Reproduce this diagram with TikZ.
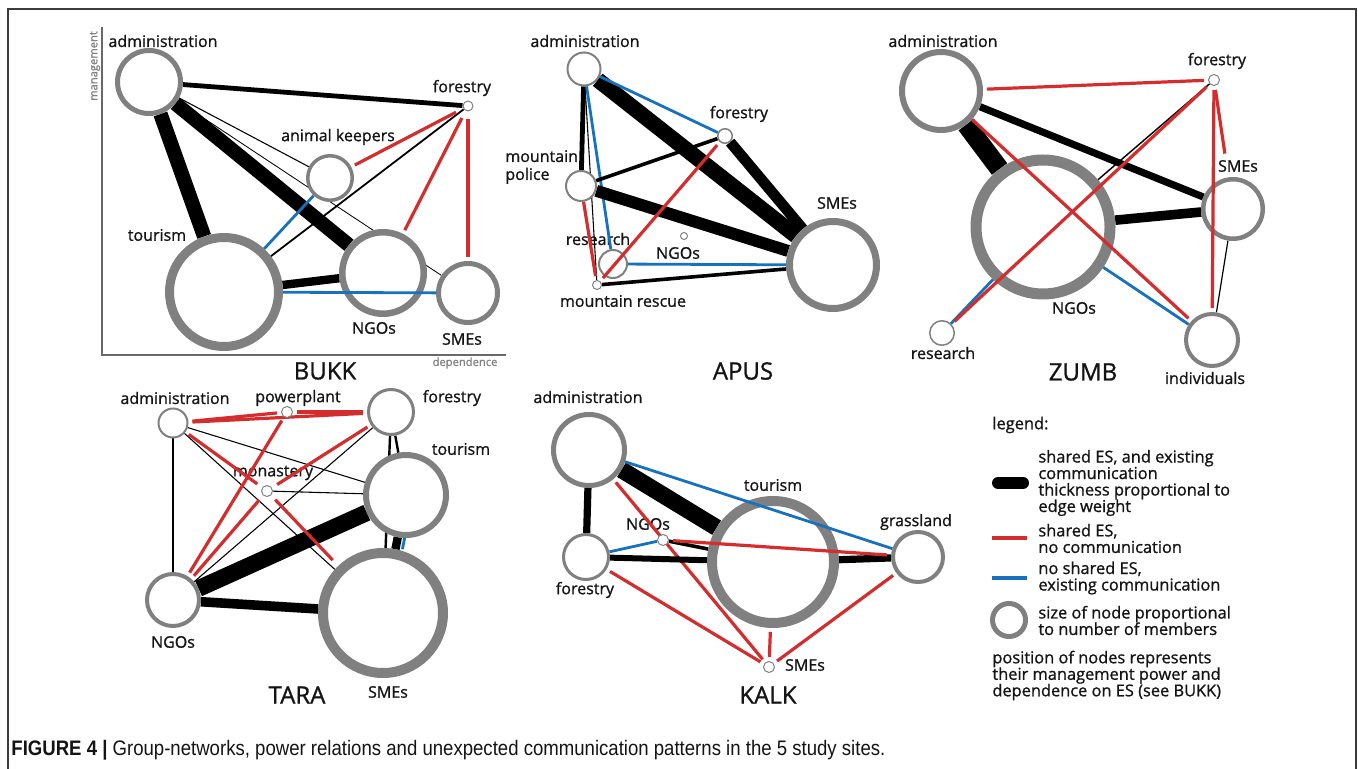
\documentclass[tikz,border=0pt]{standalone}
\usepackage{fontspec}
\usepackage{graphicx}
\setmainfont{Open Sans}[FakeBold=1.0]
\newfontfamily\capfont{Liberation Sans}
\usetikzlibrary{backgrounds}
\definecolor{ringc}{RGB}{128,128,128}
\definecolor{redc}{RGB}{212,45,45}
\definecolor{bluec}{RGB}{22,114,190}
\definecolor{axisc}{RGB}{105,105,105}
\definecolor{framec}{RGB}{60,60,60}
\definecolor{txtc}{RGB}{20,20,20}
\tikzset{
  ring/.style 2 args={circle, draw=ringc, fill=white, inner sep=0pt, line width={#2*0.5pt}, minimum size={(2*#1-#2)*0.5pt}},
  lbl/.style={font=\fontsize{8}{9}\selectfont, text=txtc, inner sep=0pt},
  ttl/.style={font=\fontsize{12}{14}\selectfont, text=txtc, inner sep=0pt},
  leg/.style={font=\fontsize{8.2}{8.25}\selectfont, text=txtc, inner sep=0pt, align=left, anchor=west},
  axlbl/.style={font=\fontsize{5.6}{6}\selectfont, text=gray, inner sep=0pt},
  bk/.style={draw=black, line width={#1*0.6pt}},
  bk/.default=1,
  rd/.style={draw=redc, line width=1.6pt, shorten <=2pt, shorten >=2pt},
  bu/.style={draw=bluec, line width=1.4pt},
}
\begin{document}
\begin{tikzpicture}[x=0.5pt,y=-0.5pt]
\useasboundingbox (0,0) rectangle (1358,769);
\draw[framec, line width=0.75pt] (8,790) -- (8,9) -- (1356,9) -- (1356,790);

% ================= BUKK =================
\draw[axisc, line width=1pt] (102,27) -- (102,355) -- (506,355);
\node[axlbl, rotate=90] (Bman) at (95,66) {management};
\node[axlbl] (Bdep) at (465,363) {dependence};
\node[ring={34}{5}] (Badm) at (149,82) {};
\node[ring={5.5}{1}] (Bfor) at (468,106) {};
\node[ring={24}{3.5}] (Bak) at (330,178) {};
\node[ring={59}{9}] (Btou) at (224,292) {};
\node[ring={44}{6.5}] (Bngo) at (383,273) {};
\node[ring={32}{5}] (Bsme) at (468,293) {};
\node[ttl] (Btitle) at (325,371) {BUKK};

% ================= APUS =================
\node[ring={17.5}{2}] (Aadm) at (584,69) {};
\node[ring={8}{1.5}] (Afor) at (725,136) {};
\node[ring={16}{2}] (Apol) at (581,186) {};
\node[ring={15}{2}] (Ares) at (613,264) {};
\node[ring={5}{1}] (Arsc) at (597,285) {};
\node[ring={4}{1}] (Ango) at (684,236) {};
\node[ring={47}{7}] (Asme) at (833,265) {};
\node[ttl] (Atitle) at (743,371) {APUS};

% ================= ZUMB =================
\node[ring={42}{6}] (Zadm) at (941,91) {};
\node[ring={6}{1}] (Zfor) at (1214,80) {};
\node[ring={32}{4.5}] (Zsme) at (1233,209) {};
\node[ring={72.5}{11}] (Zngo) at (1043,227) {};
\node[ring={13}{1.5}] (Zres) at (942,333) {};
\node[ring={28}{4}] (Zind) at (1212,340) {};
\node[ttl] (Ztitle) at (1083,372) {ZUMB};

% ================= TARA =================
\node[ring={15.5}{2}] (Tadm) at (173,423) {};
\node[ring={6}{1}] (Tpow) at (287,412) {};
\node[ring={24}{3}] (Tfor) at (391,412) {};
\node[ring={43}{6}] (Ttou) at (406,495) {};
\node[ring={6}{1}] (Tmon) at (267,491) {};
\node[ring={28}{4}] (Tngo) at (173,600) {};
\node[ring={65}{10}] (Tsme) at (383,613) {};
\node[ttl] (Ttitle) at (297,695) {TARA};

% ================= KALK =================
\node[ring={38}{5}] (Kadm) at (589,450) {};
\node[ring={24}{3}] (Kfor) at (586,557) {};
\node[ring={6}{1}] (Kngo) at (663,540) {};
\node[ring={66}{10}] (Ktou) at (773,562) {};
\node[ring={27}{4}] (Kgra) at (918,557) {};
\node[ring={6}{1}] (Ksme) at (769,667) {};
\node[ttl] (Ktitle) at (768,695) {KALK};

% ================= background: labels and edges =================
\begin{scope}[on background layer]
  % labels
  \node[lbl] (LBadm) at (163,41) {administration};
  \node[lbl] (LBfor) at (462,88) {forestry};
  \node[lbl] (LBak) at (338,137) {animal keepers};
  \node[lbl] (LBtou) at (157,235) {tourism};
  \node[lbl] (LBngo) at (374,328) {NGOs};
  \node[lbl] (LBsme) at (462,339) {SMEs};

  \node[lbl] (LAadm) at (585,41) {administration};
  \node[lbl] (LAfor) at (739,114) {forestry};
  \node[lbl, anchor=west, align=left] (LApol) at (505,167) {mountain\\police};
  \node[lbl] (LAres) at (598,239) {research};
  \node[lbl] (LArsc) at (623,301) {mountain rescue};
  \node[lbl] (LAngo) at (678,253) {NGOs};
  \node[lbl] (LAsme) at (837,203) {SMEs};

  \node[lbl] (LZadm) at (943,41) {administration};
  \node[lbl] (LZfor) at (1217,61) {forestry};
  \node[lbl] (LZsme) at (1238,166) {SMEs};
  \node[lbl] (LZngo) at (1074,308) {NGOs};
  \node[lbl] (LZres) at (943,353) {research};
  \node[lbl] (LZind) at (1205,378) {individuals};

  \node[lbl] (LTadm) at (175,398) {administration};
  \node[lbl] (LTpow) at (298,398) {powerplant};
  \node[lbl] (LTfor) at (452,398) {forestry};
  \node[lbl] (LTtou) at (461,449) {tourism};
  \node[lbl] (LTmon) at (273,473) {monastery};
  \node[lbl] (LTngo) at (173,642) {NGOs};
  \node[lbl] (LTsme) at (388,692) {SMEs};

  \node[lbl] (LKadm) at (588,397) {administration};
  \node[lbl] (LKfor) at (585,590) {forestry};
  \node[lbl] (LKngo) at (648,524) {NGOs};
  \node[lbl] (LKtou) at (773,485) {tourism};
  \node[lbl] (LKgra) at (916,522) {grassland};
  \node[lbl] (LKsme) at (805,665) {SMEs};

  % BUKK edges
  \draw[bk=4] (Badm) -- (Bfor);
  \draw[bk=12] (Badm) -- (Btou);
  \draw[bk=12] (Badm) -- (Bngo);
  \draw[bk=0.9] (Badm) -- (Bak);
  \draw[bk=0.7] (Badm) -- (Bsme);
  \draw[bk=1.5] (Btou) -- (Bfor);
  \draw[bk=7] (Btou) -- (Bngo);
  \draw[bu] (Btou) -- (Bak);
  \draw[rd, shorten <=4pt] (Bfor) -- (Bak);
  \draw[rd, shorten <=4pt] (Bfor) -- (Bngo);
  \draw[rd, shorten <=4pt] (Bfor) -- (Bsme);

  % APUS edges
  \draw[bk=13] (Aadm) -- (Asme);
  \draw[bu] (Aadm) -- (Afor);
  \draw[bk=4] (Aadm) -- (Apol);
  \draw[bk=0.9] (Aadm) -- (Arsc);
  \draw[bu] (Aadm) -- (Ares);
  \draw[bk=3] (Apol) -- (Afor);
  \draw[bk=10] (Apol) -- (Asme);
  \draw[rd, shorten <=0pt] (Apol) -- (Arsc);
  \draw[bk=9] (Afor) -- (Asme);
  \draw[bu] (Ares) -- (Asme);
  \draw[bk=3] (Arsc) -- (Asme);

  % ZUMB edges
  \draw[bk=16] (Zadm) -- (Zngo);
  \draw[bk=6] (Zadm) -- (Zsme);
  \draw[bk=8] (Zngo) -- (Zsme);
  \draw[bk=1.2] (Zngo) -- (Zfor);
  \draw[bu] (Zres) -- (Zngo);
  \draw[bu] (Zngo) -- (Zind);
  \draw[bk=1] (Zsme) -- (Zind);

  % TARA edges
  \draw[bk=0.9] (Tadm) -- (Tngo);
  \draw[bk=0.9] (Tadm) -- (Ttou);
  \draw[bk=0.9] (Tadm) -- (Tsme);
  \draw[bk=0.9] (Tfor) -- (Tngo);
  \draw[bk=0.9] (Tmon) -- (Ttou);
  \draw[bk=2] (Tfor) -- (Ttou);
  \draw[bk=2] (Tfor) -- (Tsme);
  \draw[bk=14] (Tngo) -- (Ttou);
  \draw[bk=8] (Tngo) -- (Tsme);
  \draw[bk=7] (Ttou) -- (Tsme);
  \draw[bu, transform canvas={xshift=3.5pt}] (Ttou) -- (Tsme);
  \draw[rd] (Tadm) -- (Tpow);
  \draw[rd] (Tadm) -- (Tfor);
  \draw[rd] (Tpow) -- (Tfor);
  \draw[rd, shorten >=3pt] (Tadm) -- (Tmon);
  \draw[rd] (Tpow) -- (Tngo);
  \draw[rd, shorten >=3pt] (Tfor) -- (Tmon);
  \draw[rd, shorten <=3pt] (Tmon) -- (Tngo);
  \draw[rd, shorten <=3pt, shorten >=4pt] (Tmon) -- (Tsme);

  % KALK edges
  \draw[bk=6] (Kadm) -- (Kfor);
  \draw[bk=14] (Kadm) -- (Ktou);
  \draw[rd] (Kadm) -- (Ksme);
  \draw[bu] (Kfor) -- (Kngo);
  \draw[bk=5] (Kfor) -- (Ktou);
  \draw[rd] (Kfor) -- (Ksme);
  \draw[bk=3] (Kngo) -- (Ktou);
  \draw[bk=6] (Ktou) -- (Kgra);
  \draw[rd] (Ktou) -- (Ksme);
  \draw[rd] (Kgra) -- (Ksme);
\end{scope}

% ================= edges drawn over nodes =================
\draw[bu] (Btou) -- (Bsme);
\draw[rd] (Afor) -- (Arsc);
\draw[rd] (Zadm) -- (Zfor);
\draw[rd, shorten <=0pt] (Zadm) -- (Zind);
\draw[rd] (Zres) -- (Zfor);
\draw[rd, shorten >=12pt] (Zfor) -- (Zsme);
\draw[rd] (Zfor) -- (Zind);
\draw[bu] (Kadm) -- (Kgra);
\draw[rd] (Kngo) -- (Kgra);

% ================= legend =================
\node[leg] (Lhead) at (992,425) {legend:};
\coordinate (Lb1) at (998,483);
\coordinate (Lb2) at (1023,483);
\draw[black, line width=6pt, line cap=round] (Lb1) -- (Lb2);
\node[leg] (Lt1) at (1038,483) {shared ES, and existing\\communication\\thickness proportional to\\edge weight};
\coordinate (Lr1) at (992,538);
\coordinate (Lr2) at (1027,538);
\draw[redc, line width=1.6pt] (Lr1) -- (Lr2);
\node[leg] (Lt2) at (1038,538.5) {shared ES,\\no communication};
\coordinate (Lu1) at (992,578);
\coordinate (Lu2) at (1027,578);
\draw[bluec, line width=1.6pt] (Lu1) -- (Lu2);
\node[leg] (Lt3) at (1038,578) {no shared ES,\\existing communication};
\node[ring={19}{5}] (Lring) at (1009,620) {};
\node[leg] (Lt4) at (1038,620.5) {size of node proportional\\to number of members};
\node[leg] (Lt5) at (992,675.5) {position of nodes represents\\their management power and\\dependence on ES (see BUKK)};

% ================= caption =================
\node[anchor=west, inner sep=0pt, text=txtc] (cap) at (11,750) {\capfont\fontsize{10.5}{11}\selectfont\resizebox{437pt}{\height}{\textbf{FIGURE 4 |} Group-networks, power relations and unexpected communication patterns in the 5 study sites.}};
\end{tikzpicture}
\end{document}
